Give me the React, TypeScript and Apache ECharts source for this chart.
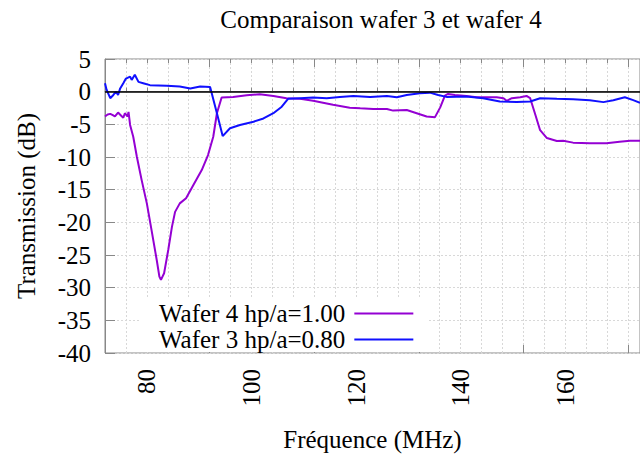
import React, { useEffect, useRef } from "react";
import * as echarts from "echarts";

const TITLE = "Comparaison wafer 3 et wafer 4";
const X_NAME = "Fréquence (MHz)";
const Y_NAME = "Transmission (dB)";
const SERIES_NAMES = ["Wafer 4 hp/a=1.00", "Wafer 3 hp/a=0.80"];

const wafer4Freq = [72, 72.5, 73, 73.5, 73.9, 74.5, 75, 75.5, 75.8, 76.3, 76.5, 76.8, 77.4, 78.1, 79, 80, 80.9, 81.9, 82.4, 82.7, 83.3, 84.1, 84.8, 85.4, 86.3, 87.5, 88.9, 90.5, 91.7, 92.7, 93.4, 94.3, 96.5, 99.1, 101.6, 104.2, 106.7, 109.3, 111.8, 114.4, 115.6, 118.8, 120.8, 123.3, 125.9, 127.1, 129.7, 131.6, 133.5, 135.1, 136.1, 137, 137.6, 138.9, 141.1, 143.1, 145, 146.9, 148.2, 148.8, 149.8, 151.4, 152.6, 153.3, 154.2, 155.2, 156.5, 158.4, 159.6, 161.5, 164.7, 167.9, 170.4, 172.4, 174.3];
const wafer4Db = [-3.8, -3.5, -3.4, -3.6, -3.8, -3.2, -3.6, -4.0, -3.3, -3.8, -3.1, -5.1, -6.9, -10.0, -13.5, -17.1, -21.2, -25.8, -28.3, -28.8, -27.8, -24.2, -20.7, -18.4, -17.1, -16.3, -14.3, -12.0, -9.7, -6.9, -3.3, -0.9, -0.8, -0.55, -0.4, -0.65, -1.0, -1.1, -1.4, -1.8, -2.0, -2.45, -2.55, -2.65, -2.65, -2.9, -2.8, -3.3, -3.8, -3.9, -2.4, -0.6, -0.35, -0.5, -0.65, -0.85, -0.85, -0.85, -1.0, -1.4, -1.0, -0.85, -0.65, -1.0, -3.3, -5.9, -7.1, -7.55, -7.5, -7.8, -7.9, -7.9, -7.65, -7.5, -7.5];

const wafer3Freq = [72, 72.3, 73, 73.6, 74.1, 74.5, 74.9, 75.5, 76, 76.8, 77.1, 77.7, 78.4, 79.3, 80.6, 83.8, 86.3, 88.3, 90.2, 92.1, 93.4, 94.5, 95.9, 97.8, 100.4, 102.3, 104.2, 105.8, 107, 109.3, 111.8, 114.4, 116.9, 119.5, 122.7, 125.9, 127.8, 129.7, 132.2, 134.1, 135.7, 137.3, 141.1, 144.3, 147.5, 150.7, 153.3, 155.2, 158.4, 161.5, 164.7, 167.3, 169.2, 171.4, 173, 174.3];
const wafer3Db = [1.3, 0.3, -1.0, -0.5, 0, -0.5, 0.5, 1.3, 2.0, 2.3, 1.8, 2.6, 1.5, 1.3, 1.0, 0.9, 0.8, 0.5, 0.8, 0.7, -3.3, -6.8, -5.6, -5.1, -4.6, -4.1, -3.3, -2.3, -1.1, -1.0, -0.9, -1.0, -0.8, -0.65, -0.8, -0.65, -0.85, -0.5, -0.25, -0.15, -0.5, -0.8, -0.75, -1.0, -1.5, -1.6, -1.5, -1.0, -1.1, -1.15, -1.3, -1.6, -1.3, -0.85, -1.3, -1.7];

const X_MIN = 72;
const X_MAX = 174.3;
const Y_MIN = -40;
const Y_MAX = 5;

const FONT = "Liberation Serif";
const FS = 25;

export default function App() {
  const ref = useRef<HTMLDivElement>(null);
  useEffect(() => {
    if (!ref.current) return;
    const chart = echarts.init(ref.current, null, { renderer: "svg" });
    const zip = (xs: number[], ys: number[]) => xs.map((x, i) => [x, ys[i]]);
    const gridLine = { show: true, lineStyle: { color: "#d8d8d8", type: [2, 2] as any, width: 1 } };
    const tickAxis = (position: string, interval: number, length: number) => ({
      type: "value",
      min: X_MIN,
      max: X_MAX,
      interval,
      position,
      axisLine: { show: false },
      axisTick: { show: true, inside: true, length, lineStyle: { color: "#888" } },
      axisLabel: { show: false },
      splitLine: { show: false },
    });
    chart.setOption({
      animation: false,
      backgroundColor: "#ffffff",
      textStyle: { fontFamily: FONT },
      title: {
        text: TITLE,
        left: 376,
        textAlign: "center",
        top: 2,
        textStyle: { fontFamily: FONT, fontSize: FS, fontWeight: "normal", color: "#000" },
      },
      grid: { left: 105, top: 59, right: 0, bottom: 106, show: true, borderColor: "#888", borderWidth: 1 },
      legend: {
        orient: "vertical",
        left: 154,
        top: 296,
        align: "right",
        itemWidth: 59,
        itemHeight: 2,
        itemGap: 1,
        icon: "rect",
        textStyle: { fontFamily: FONT, fontSize: FS, color: "#000", lineHeight: 25, padding: [0, 4, 0, 0] },
        data: SERIES_NAMES,
        z: 10,
      },
      graphic: [
        { type: "rect", shape: { x: 140, y: 297, width: 288, height: 55 }, style: { fill: "#fff" }, z: 1 },
      ],
      xAxis: [
        {
          type: "value",
          min: X_MIN,
          max: X_MAX,
          interval: 4,
          name: X_NAME,
          nameLocation: "middle",
          nameGap: 74,
          nameTextStyle: { fontFamily: FONT, fontSize: FS, color: "#000" },
          axisLine: { show: true, lineStyle: { color: "#888" } },
          axisTick: { show: true, inside: true, length: 4, lineStyle: { color: "#888" } },
          axisLabel: {
            rotate: 90,
            margin: 16,
            fontFamily: FONT,
            fontSize: FS,
            color: "#000",
            formatter: (v: number) => (Math.abs(v % 20) < 1e-6 ? String(v) : ""),
          },
          splitLine: gridLine,
        },
        tickAxis("bottom", 20, 8),
        tickAxis("top", 4, 4),
        tickAxis("top", 20, 8),
      ],
      yAxis: {
        type: "value",
        min: Y_MIN,
        max: Y_MAX,
        interval: 5,
        name: Y_NAME,
        nameLocation: "middle",
        nameGap: 66,
        nameTextStyle: { fontFamily: FONT, fontSize: FS, color: "#000" },
        axisLine: { show: true, lineStyle: { color: "#888" } },
        axisTick: { show: true, inside: true, length: 10, lineStyle: { color: "#888" } },
        axisLabel: { margin: 14, fontFamily: FONT, fontSize: FS, color: "#000" },
        splitLine: gridLine,
      },
      series: [
        {
          name: SERIES_NAMES[0],
          type: "line",
          data: zip(wafer4Freq, wafer4Db),
          showSymbol: false,
          symbol: "none",
          color: "#9400d3",
          lineStyle: { color: "#9400d3", width: 2 },
          z: 3,
          markLine: {
            silent: true,
            symbol: "none",
            label: { show: false },
            lineStyle: { color: "#000", width: 1.5, type: "solid" },
            data: [{ yAxis: 0 }],
          },
        },
        {
          name: SERIES_NAMES[1],
          type: "line",
          data: zip(wafer3Freq, wafer3Db),
          showSymbol: false,
          symbol: "none",
          color: "#1010ff",
          lineStyle: { color: "#1010ff", width: 2 },
          z: 4,
        },
      ],
    });
    return () => chart.dispose();
  }, []);
  return <div ref={ref} style={{ width: 640, height: 459, position: "absolute", left: 0, top: 0 }} />;
}
